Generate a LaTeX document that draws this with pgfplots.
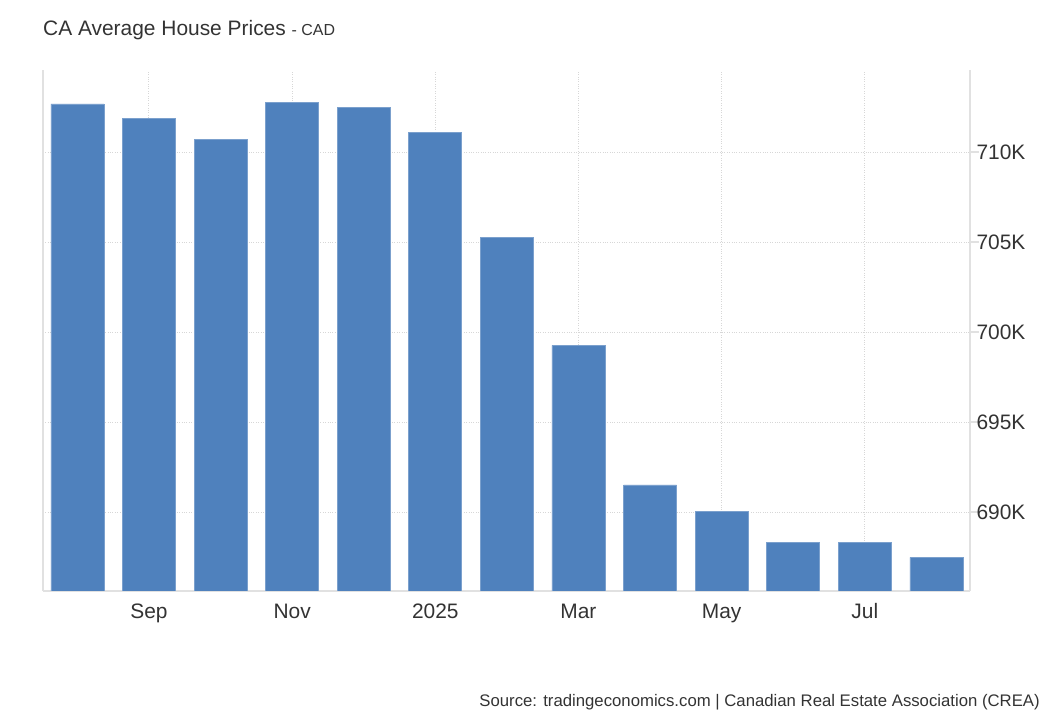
\documentclass[border=0pt]{standalone}
\usepackage{pgfplots}
\pgfplotsset{compat=1.18}
\usepackage{fontspec}
\setmainfont{Liberation Sans}
\definecolor{barblue}{RGB}{79,129,189}
\definecolor{gridgray}{RGB}{215,215,215}
\definecolor{axisgray}{RGB}{225,225,225}
\definecolor{txt}{RGB}{51,51,51}
\begin{document}
\begin{tikzpicture}[x=1bp,y=1bp]
\path[use as bounding box] (0,0) rectangle (1059,723);
\begin{axis}[
    at={(43bp,132bp)}, anchor=south west,
    scale only axis,
    width=927bp, height=521bp,
    xmin=-0.48, xmax=12.47,
    ymin=685.61, ymax=714.56,
    ybar, bar width=0.74,
    axis line style={axisgray, line width=1.2bp},
    axis x line*=bottom,
    axis y line*=right,
    xtick={1,3,5,7,9,11},
    xticklabels={Sep,Nov,2025,Mar,May,Jul},
    ytick={690,695,700,705,710},
    yticklabels={690K,695K,700K,705K,710K},
    xmajorgrids, ymajorgrids,
    major grid style={gridgray, dotted, line width=0.9bp},
    x tick style={draw=none},
    y tick style={axisgray, line width=1.2bp},
    tick align=outside,
    major tick length=9bp,
    tick label style={font=\fontsize{21}{24}\selectfont, text=txt},
    xticklabel style={text height=15bp, text depth=4bp, yshift=0bp},
    yticklabel style={xshift=-6bp},
    /pgf/number format/assume math mode=true,
]
\addplot[fill=barblue, draw=barblue!75!white, line width=0.6bp] coordinates {
    (0,712.67) (1,711.87) (2,710.71) (3,712.76) (4,712.48) (5,711.09)
    (6,705.26) (7,699.26) (8,691.50) (9,690.04) (10,688.30) (11,688.30)
    (12,687.48)
};
\end{axis}
\draw[axisgray, line width=1.2bp] (43,132) -- (43,653);
\node[anchor=base west, inner sep=0, text=txt] at (43,687)
  {\fontsize{21}{24}\selectfont CA Average House Prices {\fontsize{16}{19}\selectfont - CAD}};
\node[anchor=base east, inner sep=0, text=txt] at (1040,16)
  {\fontsize{16.8}{20}\selectfont Source: tradingeconomics.com | Canadian Real Estate Association (CREA)};
\end{tikzpicture}
\end{document}
